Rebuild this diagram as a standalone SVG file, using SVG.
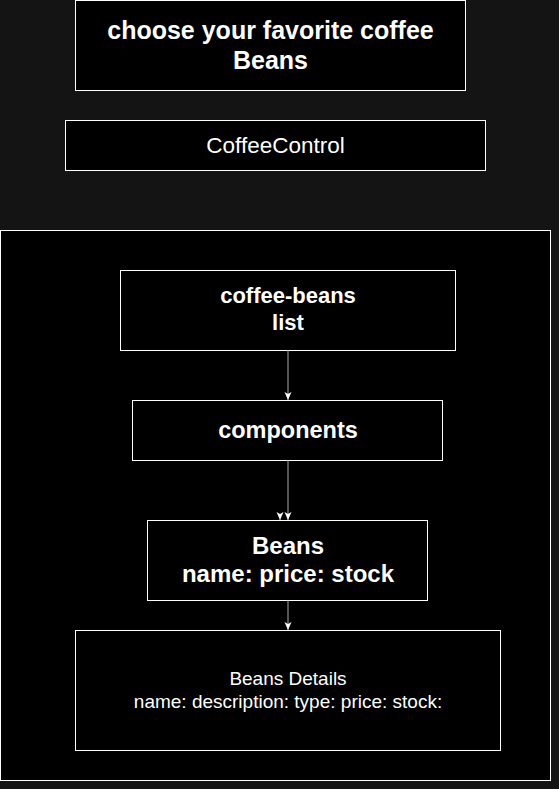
<svg xmlns="http://www.w3.org/2000/svg" width="559" height="789" viewBox="0 0 559 789">
<defs>
<style>
.box{fill:#000;stroke:#fff;stroke-width:1}
.t{font-family:"Liberation Sans",Arial,Helvetica,sans-serif;fill:#fff;text-anchor:middle}
.b{font-weight:bold}
.edge{stroke:#8c8c8c;stroke-width:1.2;fill:none}
</style>
<marker id="ah" viewBox="0 0 8 8" refX="8" refY="4" markerWidth="8" markerHeight="8" markerUnits="userSpaceOnUse" orient="auto">
<path d="M0,0.5 L8,4 L0,7.5 L2,4 z" fill="#fff"/>
</marker>
</defs>
<rect x="0" y="0" width="559" height="789" fill="#141414"/>
<g id="container">
<rect class="box" x="0.5" y="230.5" width="550" height="550"/>
</g>
<g id="title">
<rect class="box" x="75.5" y="0.5" width="390" height="90"/>
<text class="t b" x="270.5" y="39" font-size="25">choose your favorite coffee</text>
<text class="t b" x="270.5" y="69" font-size="25">Beans</text>
</g>
<g id="coffeecontrol">
<rect class="box" x="65.5" y="120.5" width="420" height="50"/>
<text class="t" x="275.5" y="153" font-size="22.5">CoffeeControl</text>
</g>
<g id="coffee-beans-list">
<rect class="box" x="120.5" y="270.5" width="335" height="80"/>
<text class="t b" x="288" y="303" font-size="22">coffee-beans</text>
<text class="t b" x="288" y="330" font-size="22">list</text>
</g>
<g id="components">
<rect class="box" x="132.5" y="400.5" width="310" height="60"/>
<text class="t b" x="288" y="438" font-size="23.5">components</text>
</g>
<g id="beans">
<rect class="box" x="147.5" y="520.5" width="280" height="80"/>
<text class="t b" x="288" y="554" font-size="24">Beans</text>
<text class="t b" x="288" y="582" font-size="24">name: price: stock</text>
</g>
<g id="beans-details">
<rect class="box" x="75.5" y="630.5" width="425" height="120"/>
<text class="t" x="288" y="685" font-size="19">Beans Details</text>
<text class="t" x="288" y="708" font-size="19">name: description: type: price: stock:</text>
</g>
<g id="connectors">
<path class="edge" d="M288,350.5 L288,400" marker-end="url(#ah)"/>
<path class="edge" d="M288,460.5 L288,520" marker-end="url(#ah)"/>
<path class="edge" d="M280,519 L280,520" stroke="none" marker-end="url(#ah)"/>
<path class="edge" d="M288,600.5 L288,630" marker-end="url(#ah)"/>
</g>
</svg>
